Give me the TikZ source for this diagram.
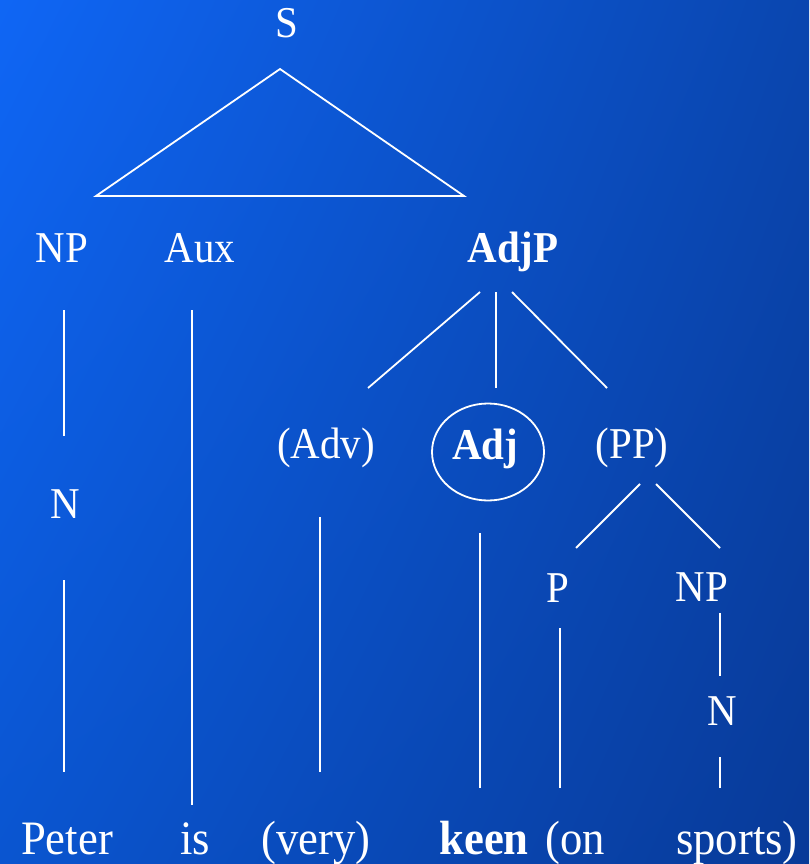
\documentclass[tikz,border=0pt]{standalone}
\usepackage{fontspec}
\setmainfont{Liberation Serif}[FakeStretch=0.93]
\usetikzlibrary{shapes.geometric,shadings}
\definecolor{bgUL}{RGB}{15,102,245}
\definecolor{bgUR}{RGB}{10,70,175}
\definecolor{bgLL}{RGB}{10,85,208}
\definecolor{bgLR}{RGB}{8,58,152}
\begin{document}
\begin{tikzpicture}[x=1pt,y=-1pt,
  lbl/.style={text=white,anchor=base,inner sep=0pt,font=\fontsize{44}{48}\selectfont},
  word/.style={text=white,anchor=base,inner sep=0pt,font=\fontsize{48}{52}\selectfont},
  edge/.style={draw=white,line width=1.8pt},
  ring/.style={draw=white,line width=1.8pt,ellipse,minimum width=112pt,minimum height=97pt,inner sep=0pt}]
  % background
  \shade[upper left=bgUL,upper right=bgUR,lower left=bgLL,lower right=bgLR]
    (0,0) rectangle (809,864);
  \useasboundingbox (0,0) rectangle (809,864);

  % category labels
  \node[lbl] (S) at (287,38) {S};
  \node[lbl] (NP1) at (62,262) {NP};
  \node[lbl] (Aux) at (200,262) {Aux};
  \node[lbl,font=\fontsize{44}{48}\selectfont\bfseries] (AdjP) at (513,262) {AdjP};
  \node[lbl] (N1) at (65,518) {N};
  \node[lbl] (Adv) at (326,458) {(Adv)};
  \node[lbl,font=\fontsize{44}{48}\selectfont\bfseries] (Adj) at (485,459) {Adj};
  \node[ring] (AdjRing) at (488,452) {};
  \node[lbl] (PP) at (632,458) {(PP)};
  \node[lbl] (P) at (558,602) {P};
  \node[lbl] (NP2) at (702,601) {NP};
  \node[lbl] (N2) at (722,725) {N};

  % words
  \node[word] (Peter) at (67,854) {Peter};
  \node[word] (is) at (195,854) {is};
  \node[word] (very) at (316,854) {(very)};
  \node[word,font=\fontsize{48}{52}\selectfont\bfseries] (keen) at (484,854) {keen};
  \node[word] (on) at (575,854) {(on};
  \node[word] (sports) at (737,854) {sports)};

  % branch end points
  \coordinate (triTop) at (280,69);
  \coordinate (triL) at (96,196);
  \coordinate (triR) at (464,196);
  \coordinate (np1a) at (64,310);  \coordinate (np1b) at (64,436);
  \coordinate (n1a) at (64,580);   \coordinate (n1b) at (64,772);
  \coordinate (auxa) at (192,310); \coordinate (auxb) at (192,805);
  \coordinate (ajpL) at (480,292); \coordinate (advT) at (368,388);
  \coordinate (ajpM) at (496,292); \coordinate (adjT) at (496,388);
  \coordinate (ajpR) at (512,292); \coordinate (ppT) at (607,388);
  \coordinate (adva) at (320,517); \coordinate (advb) at (320,772);
  \coordinate (adja) at (480,533); \coordinate (adjb) at (480,788);
  \coordinate (ppL) at (640,484);  \coordinate (pT) at (576,548);
  \coordinate (ppR) at (656,484);  \coordinate (np2T) at (720,548);
  \coordinate (pa) at (560,628);   \coordinate (pb) at (560,788);
  \coordinate (np2a) at (720,613); \coordinate (np2b) at (720,676);
  \coordinate (n2a) at (720,757);  \coordinate (n2b) at (720,788);

  % branches
  \draw[edge,line join=miter] (triTop) -- (triL) -- (triR) -- cycle;
  \draw[edge] (np1a) -- (np1b);
  \draw[edge] (n1a) -- (n1b);
  \draw[edge] (auxa) -- (auxb);
  \draw[edge] (ajpL) -- (advT);
  \draw[edge] (ajpM) -- (adjT);
  \draw[edge] (ajpR) -- (ppT);
  \draw[edge] (adva) -- (advb);
  \draw[edge] (adja) -- (adjb);
  \draw[edge] (ppL) -- (pT);
  \draw[edge] (ppR) -- (np2T);
  \draw[edge] (pa) -- (pb);
  \draw[edge] (np2a) -- (np2b);
  \draw[edge] (n2a) -- (n2b);
\end{tikzpicture}
\end{document}
